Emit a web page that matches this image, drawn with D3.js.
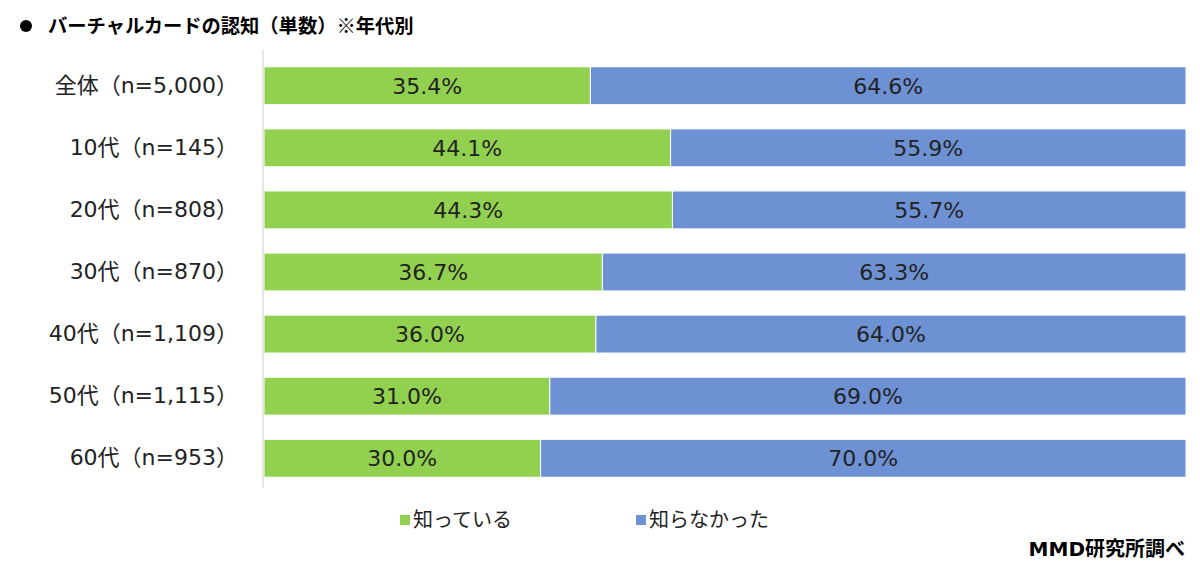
<!DOCTYPE html>
<html><head><meta charset="utf-8">
<script src="https://cdn.jsdelivr.net/npm/d3@7"></script>
<style>body{margin:0;background:#fff;}svg{display:block;font-family:"DejaVu Sans","Noto Sans CJK JP",sans-serif;}</style>
</head><body><svg id="c" width="1200" height="574"></svg>
<script>
const categories = ["全体（n=5,000）","10代（n=145）","20代（n=808）","30代（n=870）","40代（n=1,109）","50代（n=1,115）","60代（n=953）"];
const knownValues = [35.4,44.1,44.3,36.7,36.0,31.0,30.0];
const unknownValues = [64.6,55.9,55.7,63.3,64.0,69.0,70.0];
const seriesNames = ["知っている","知らなかった"];
const colors = ["#92D050","#6E91D3"];
const title = "バーチャルカードの認知（単数）※年代別";
const source = "MMD研究所調べ";

const svg = d3.select("#c");
const x = d3.scaleLinear().domain([0,100]).range([264,1186]);
const y = d3.scaleBand().domain(categories).range([55,489]).paddingInner(0.39).paddingOuter(0.19);

svg.append("circle").attr("cx",26).attr("cy",26).attr("r",6).attr("fill","#000");
svg.append("text").attr("x",48).attr("y",33).attr("font-size",19.3).attr("font-weight","bold").attr("fill","#000")
  .attr("font-family","'Noto Sans CJK JP',sans-serif").text(title);

const rows = categories.map((c,i)=>({c, v:[knownValues[i],unknownValues[i]]}));
rows.forEach(r=>{
  let acc=0;
  r.v.forEach((v,j)=>{
    const x0=x(acc), x1=x(acc+v);
    svg.append("rect").attr("x",x0).attr("y",y(r.c)).attr("width",x1-x0).attr("height",y.bandwidth())
      .attr("fill",colors[j]).attr("stroke","#fff").attr("stroke-width",1);
    svg.append("text").attr("x",(x0+x1)/2).attr("y",y(r.c)+y.bandwidth()/2).attr("dy","0.36em")
      .attr("text-anchor","middle").attr("font-size",22).attr("fill","#222").text(v.toFixed(1)+"%");
    acc+=v;
  });
});

const ax = svg.append("g").attr("transform","translate(263,0)").call(d3.axisLeft(y).tickSize(0).tickPadding(25));
ax.select(".domain").attr("stroke","#d0d0d0").attr("d","M0,50V488");
ax.selectAll("text").attr("font-size",22).attr("fill","#222").attr("font-family","'DejaVu Sans','Noto Sans CJK JP',sans-serif");

const legX=[400,636];
seriesNames.forEach((s,j)=>{
  svg.append("rect").attr("x",legX[j]).attr("y",515).attr("width",10).attr("height",10).attr("fill",colors[j]);
  svg.append("text").attr("x",legX[j]+13).attr("y",520).attr("dy","0.36em").attr("font-size",20)
    .attr("font-family","'Noto Sans CJK JP',sans-serif").attr("fill","#222").text(s);
});
svg.append("text").attr("x",1185).attr("y",556).attr("text-anchor","end").attr("font-size",20).attr("font-weight","bold").attr("fill","#000").text(source);
</script></body></html>
